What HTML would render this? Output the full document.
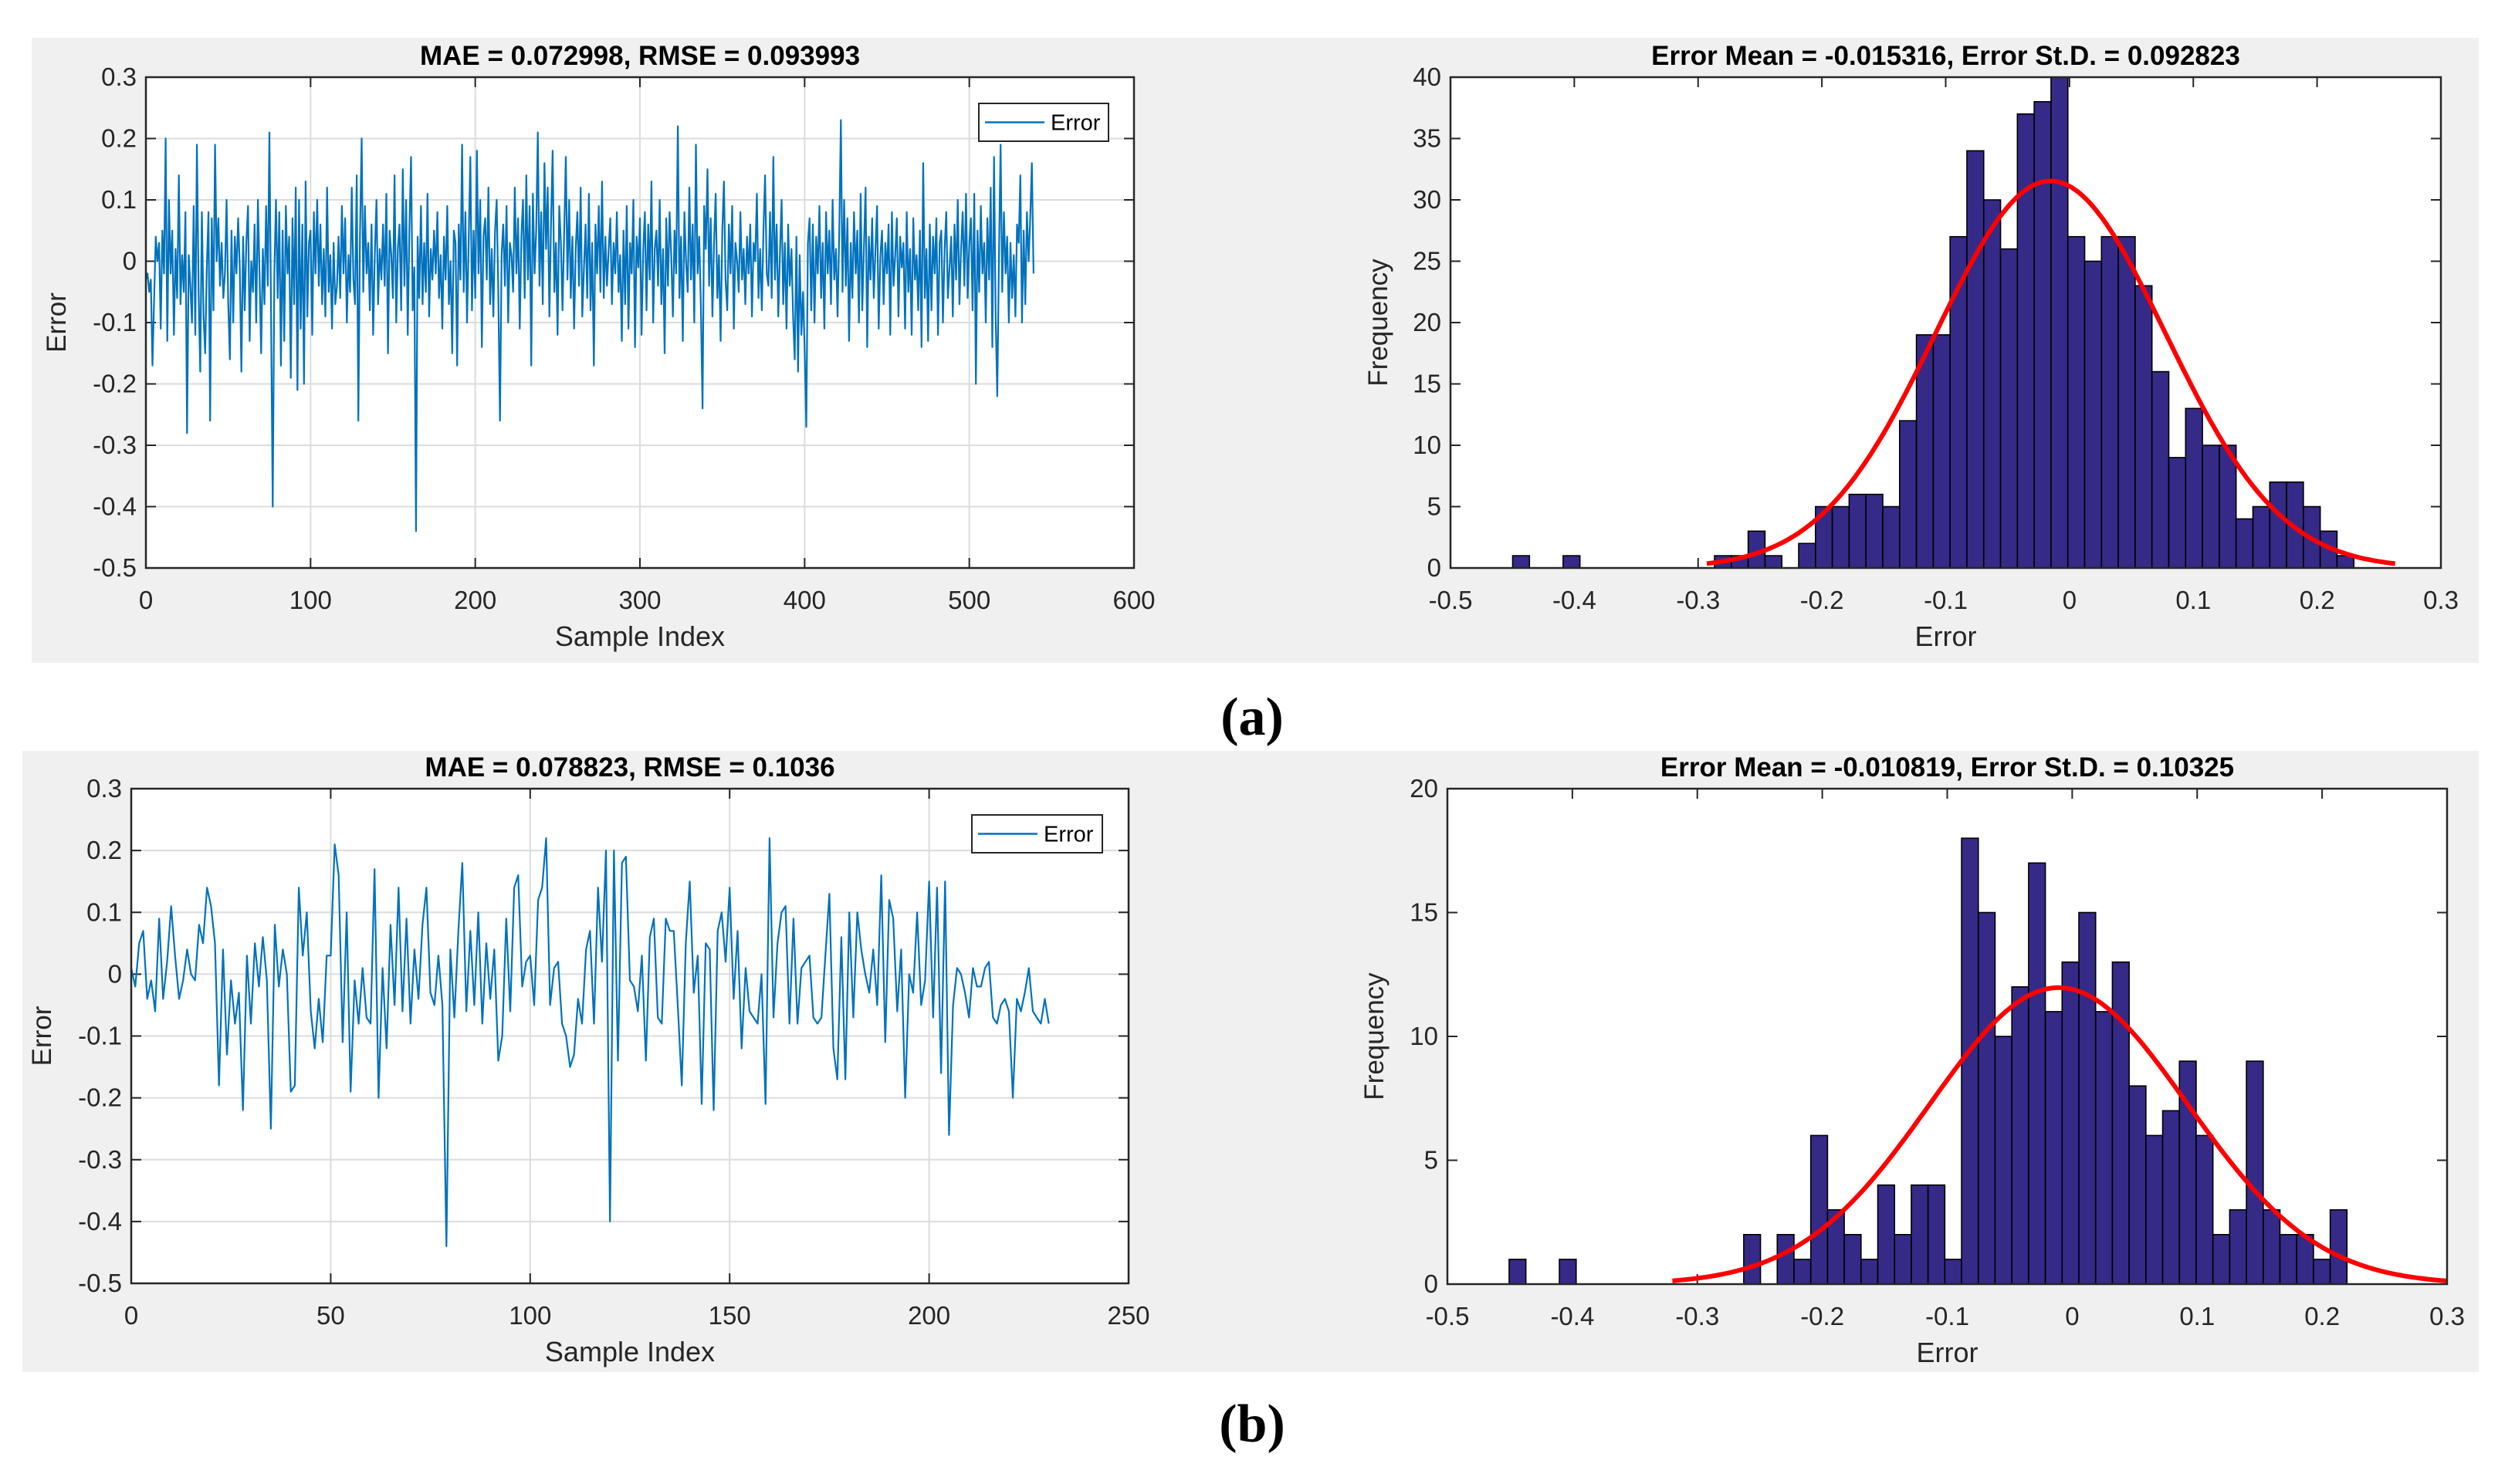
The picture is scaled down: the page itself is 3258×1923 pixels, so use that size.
<!DOCTYPE html>
<html><head><meta charset="utf-8">
<style>
html,body{margin:0;padding:0;background:#fff;}
svg{display:block;}
text{font-family:"Liberation Sans",Arial,sans-serif;}
</style></head>
<body>
<svg id="fig" width="3258" height="1923" viewBox="0 0 3258 1923" xmlns="http://www.w3.org/2000/svg">
<rect x="41" y="49" width="3170" height="810" fill="#f0f0f0"/>
<rect x="29" y="973" width="3182" height="805" fill="#f0f0f0"/>
<text x="1622" y="952" text-anchor="middle" style="font-family:'Liberation Serif',serif;font-weight:bold;font-size:70px">(a)</text>
<text x="1622" y="1868" text-anchor="middle" style="font-family:'Liberation Serif',serif;font-weight:bold;font-size:70px">(b)</text>
</svg>
<script>
// ---- Panel (a) error series (value per sample index) ----
const errorsA = [
-0.03,-0.02,-0.05,-0.03,-0.17,-0.06,0.04,0.00,0.03,-0.11,
0.05,-0.02,0.20,-0.13,0.10,-0.02,0.05,-0.12,0.02,-0.06,
0.14,-0.07,0.01,-0.05,0.08,-0.28,0.01,-0.04,-0.10,0.09,
-0.12,0.19,-0.05,-0.18,0.08,-0.09,-0.15,-0.01,0.08,-0.26,
0.07,-0.08,0.19,0.00,0.07,-0.04,0.03,-0.06,-0.02,0.10,
-0.07,-0.16,0.05,-0.10,0.04,-0.02,0.07,-0.01,-0.18,0.04,
-0.08,0.03,0.09,-0.13,0.00,-0.05,0.06,-0.10,0.10,-0.02,
-0.15,0.02,-0.07,0.09,-0.04,0.21,-0.08,-0.40,-0.02,0.10,
-0.06,0.08,-0.17,0.05,-0.13,0.09,-0.02,0.04,-0.19,0.07,
-0.07,0.12,-0.21,0.10,-0.11,0.06,-0.20,0.13,-0.09,0.03,
0.05,-0.12,0.08,-0.02,0.10,-0.04,0.06,-0.07,0.02,-0.09,
0.12,-0.05,0.01,-0.11,0.03,-0.07,-0.04,0.04,-0.06,0.09,
-0.02,0.07,-0.10,0.01,-0.05,0.12,-0.03,-0.07,0.14,-0.26,
0.04,0.20,-0.05,0.09,-0.02,0.03,-0.08,0.06,-0.12,0.01,
0.10,-0.07,0.02,-0.03,0.06,-0.04,0.11,-0.15,0.05,0.01,
-0.06,0.14,-0.10,0.02,0.06,-0.08,0.15,-0.04,0.10,-0.12,
0.05,0.17,-0.08,-0.01,-0.44,0.04,-0.06,0.09,-0.07,0.03,
-0.05,0.11,-0.09,0.02,-0.03,0.05,-0.02,0.08,-0.06,0.01,
-0.11,0.04,-0.03,0.09,-0.07,0.00,-0.15,0.05,0.03,-0.17,
0.06,-0.03,0.19,-0.05,0.08,-0.10,0.03,0.17,-0.08,0.05,
-0.06,0.18,-0.02,0.10,-0.14,0.04,0.07,-0.03,0.12,-0.07,
0.02,-0.09,0.05,0.10,-0.05,-0.26,0.01,0.06,-0.04,0.09,
-0.10,0.03,0.01,-0.05,0.12,-0.02,0.07,-0.11,0.04,0.10,
-0.06,0.14,-0.03,0.09,-0.17,0.11,-0.02,0.05,0.21,-0.04,
0.08,-0.07,0.16,0.02,0.12,-0.09,0.06,0.18,-0.05,0.03,
-0.12,0.09,0.03,-0.08,0.05,0.17,-0.03,0.10,-0.06,0.04,
-0.11,0.02,0.08,-0.04,0.12,-0.09,-0.01,0.06,-0.06,0.11,
-0.08,0.03,-0.17,0.06,-0.02,0.09,-0.05,0.13,-0.06,0.04,
-0.04,0.02,0.07,-0.07,0.03,-0.02,0.08,-0.05,0.01,-0.13,
0.05,-0.07,0.09,-0.11,0.03,-0.02,0.10,-0.14,0.04,-0.01,
0.07,-0.12,0.02,0.08,-0.08,0.06,-0.03,0.13,-0.10,0.02,
0.05,-0.04,0.10,-0.07,0.02,-0.15,0.07,-0.04,0.08,0.01,
-0.09,0.05,-0.02,0.22,-0.06,0.04,-0.13,0.08,0.00,-0.05,
0.12,-0.03,0.06,-0.10,0.19,-0.02,0.04,-0.07,-0.24,0.09,
0.02,0.15,-0.04,0.07,-0.09,0.03,0.11,-0.06,0.01,-0.13,
0.05,0.13,-0.03,-0.08,0.06,-0.02,0.09,-0.11,0.03,0.00,
-0.05,0.08,-0.03,0.02,-0.07,0.04,-0.02,0.06,-0.09,0.03,
0.00,0.11,-0.06,0.02,-0.08,0.05,0.14,-0.02,-0.04,0.08,
-0.06,0.17,-0.03,0.06,-0.09,0.01,0.10,-0.07,0.03,-0.11,
0.06,-0.04,0.02,-0.09,-0.16,0.04,-0.18,0.01,-0.12,-0.05,
-0.14,-0.27,0.03,0.07,-0.08,0.06,-0.10,0.04,-0.02,0.09,
-0.06,0.03,-0.11,0.08,-0.02,0.05,-0.07,0.10,-0.03,0.02,
-0.09,0.04,0.23,-0.05,0.10,-0.04,0.07,-0.13,0.03,-0.06,
0.08,-0.02,0.05,-0.10,0.11,-0.08,0.02,0.12,-0.14,0.04,
-0.03,0.07,-0.06,0.02,0.09,-0.11,0.01,0.05,-0.07,0.03,
-0.02,0.06,-0.12,0.08,-0.04,0.01,0.07,-0.09,0.04,-0.01,
0.03,-0.11,0.08,-0.05,0.02,-0.12,0.07,-0.03,0.01,-0.08,
0.05,-0.14,0.16,-0.06,0.02,-0.13,0.06,-0.08,0.04,-0.02,
0.07,-0.12,0.03,0.05,-0.10,0.02,0.08,-0.06,-0.01,0.04,
-0.09,0.06,-0.03,0.10,-0.07,0.02,0.08,-0.04,0.11,-0.06,
0.03,0.07,-0.08,0.11,-0.20,0.05,-0.05,0.09,-0.02,0.03,
-0.10,0.07,-0.03,0.12,-0.14,0.17,-0.09,-0.22,0.01,0.19,
-0.05,0.08,-0.02,0.04,-0.10,0.03,-0.06,0.01,-0.09,0.06,
0.03,0.14,-0.10,0.05,-0.07,0.08,0.00,0.07,0.16,-0.02
];
// ---- Panel (b) error series ----
const errorsB = [
0.01,-0.02,0.05,0.07,-0.04,-0.01,-0.06,0.09,-0.04,0.02,
0.11,0.03,-0.04,-0.01,0.04,0.00,-0.01,0.08,0.05,0.14,
0.11,0.05,-0.18,0.04,-0.13,-0.01,-0.08,-0.03,-0.22,0.03,
-0.08,0.05,-0.02,0.06,-0.01,-0.25,0.08,-0.02,0.04,0.00,
-0.19,-0.18,0.14,0.03,0.10,-0.06,-0.12,-0.04,-0.11,0.03,
0.03,0.21,0.16,-0.11,0.10,-0.19,-0.01,-0.08,0.01,-0.07,
-0.08,0.17,-0.20,0.01,-0.12,0.08,-0.05,0.14,-0.06,0.09,
-0.08,0.04,-0.04,0.08,0.14,-0.03,-0.05,0.03,-0.05,-0.44,
0.04,-0.07,0.07,0.18,-0.06,0.07,-0.05,0.10,-0.08,0.05,
-0.04,0.04,-0.14,-0.10,0.09,-0.06,0.14,0.16,-0.02,0.02,
0.03,-0.05,0.12,0.14,0.22,-0.05,0.01,0.02,-0.08,-0.10,
-0.15,-0.13,-0.04,-0.08,0.04,0.07,-0.08,0.14,0.02,0.20,
-0.40,0.20,-0.14,0.18,0.19,-0.01,-0.02,-0.06,0.03,-0.14,
0.06,0.09,-0.07,-0.08,0.09,0.07,0.07,-0.05,-0.18,0.05,
0.15,-0.03,0.03,-0.21,0.05,0.04,-0.22,0.07,0.10,0.02,
0.14,-0.04,0.07,-0.12,0.01,-0.06,-0.07,-0.08,0.00,-0.21,
0.22,-0.07,0.05,0.10,0.11,-0.08,0.09,-0.08,0.01,0.02,
0.03,-0.07,-0.08,-0.07,0.03,0.13,-0.12,-0.17,0.06,-0.17,
0.10,-0.07,0.10,0.04,0.00,-0.03,0.04,-0.05,0.16,-0.11,
0.12,0.09,-0.06,0.04,-0.20,0.00,-0.03,0.10,-0.05,-0.01,
0.15,-0.07,0.14,-0.16,0.15,-0.26,-0.05,0.01,0.00,-0.03,
-0.07,0.01,-0.02,-0.02,0.01,0.02,-0.07,-0.08,-0.05,-0.04,
-0.06,-0.20,-0.04,-0.06,-0.03,0.01,-0.06,-0.07,-0.08,-0.04,-0.08
];
// ---- Histogram counts ----
const countsA = [1,0,0,1,0,0,0,0,0,0,0,0,1,1,3,1,0,2,5,5,6,6,5,12,19,19,27,34,30,26,37,38,40,27,25,27,27,23,16,9,13,10,10,4,5,7,7,5,3,1];
const histMinA = -0.4498, binWidthA = 0.01359;
const countsB = [1,0,0,1,0,0,0,0,0,0,0,0,0,0,2,0,2,1,6,3,2,1,4,2,4,4,1,18,15,10,12,17,11,13,15,11,13,8,6,7,9,6,2,3,9,3,2,2,1,3];
const histMinB = -0.4506, binWidthB = 0.01341;
// ---- Fit parameters ----
const fitA = [-0.015316, 0.092823, 540]; // mean, std, N
const fitB = [-0.010819, 0.10325, 231];
const fitRangeA = [-0.293, 0.263];
const fitRangeB = [-0.320, 0.300];
// ---- Tick labels ----
const yTicksErr = [0.3,0.2,0.1,0,-0.1,-0.2,-0.3,-0.4,-0.5];
const xTicksA = [0,100,200,300,400,500,600];
const xTicksB = [0,50,100,150,200,250];
const xTicksHist = [-0.5,-0.4,-0.3,-0.2,-0.1,0,0.1,0.2,0.3];
const yTicksHistA = [0,5,10,15,20,25,30,35,40];
const yTicksHistB = [0,5,10,15,20];

const NS = "http://www.w3.org/2000/svg";
const svg = document.getElementById('fig');
function mk(tag, attrs, parent){
  const e = document.createElementNS(NS, tag);
  for (const k in attrs) e.setAttribute(k, attrs[k]);
  (parent||svg).appendChild(e);
  return e;
}
function fmt(v){ return String(v); }

function axes(prefix, box, xdom, ydom, xticks, yticks, grid, title, xlabel, ylabel, ylabX){
  const g = mk('g', {});
  
  
  const sx = v => box.x0 + (v - xdom[0]) / (xdom[1] - xdom[0]) * (box.x1 - box.x0);
  const sy = v => box.y1 - (v - ydom[0]) / (ydom[1] - ydom[0]) * (box.y1 - box.y0);
  const bg = mk('rect', {x:box.x0, y:box.y0, width:box.x1-box.x0, height:box.y1-box.y0, fill:'#fff'}, g);
  
  
  if (grid){
    xticks.forEach(t => { const l = mk('line', {x1:sx(t), x2:sx(t), y1:box.y0, y2:box.y1, stroke:'#dcdcdc', 'stroke-width':2}, g);
      
       });
    yticks.forEach(t => { const l = mk('line', {x1:box.x0, x2:box.x1, y1:sy(t), y2:sy(t), stroke:'#dcdcdc', 'stroke-width':2}, g);
      
       });
  }
  const tl = 13;
  xticks.forEach(t => {
    mk('line', {x1:sx(t), x2:sx(t), y1:box.y1, y2:box.y1-tl, stroke:'#262626', 'stroke-width':2}, g);
    mk('line', {x1:sx(t), x2:sx(t), y1:box.y0, y2:box.y0+tl, stroke:'#262626', 'stroke-width':2}, g);
    const tx = mk('text', {x:sx(t), y:box.y1+53, 'text-anchor':'middle', 'font-size':33, fill:'#262626'}, g);
    
    
    tx.textContent = fmt(t);
  });
  yticks.forEach(t => {
    mk('line', {x1:box.x0, x2:box.x0+tl, y1:sy(t), y2:sy(t), stroke:'#262626', 'stroke-width':2}, g);
    mk('line', {x1:box.x1, x2:box.x1-tl, y1:sy(t), y2:sy(t), stroke:'#262626', 'stroke-width':2}, g);
    const tx = mk('text', {x:box.x0-12, y:sy(t)+11, 'text-anchor':'end', 'font-size':33, fill:'#262626'}, g);
    
    
    tx.textContent = fmt(t);
  });
  const ti = mk('text', {x:(box.x0+box.x1)/2, y:box.y0-16, 'text-anchor':'middle', 'font-size':35, 'font-weight':'bold', fill:'#000'}, g);
  
  
  ti.textContent = title;
  const xl = mk('text', {x:(box.x0+box.x1)/2, y:box.y1+101, 'text-anchor':'middle', 'font-size':36, fill:'#262626'}, g);
  
  
  xl.textContent = xlabel;
  const cy = (box.y0+box.y1)/2;
  const yl = mk('text', {x:ylabX, y:cy, 'text-anchor':'middle', 'font-size':35, fill:'#262626', transform:'rotate(-90 '+ylabX+' '+cy+')'}, g);
  
  
  yl.textContent = ylabel;
  return {g, sx, sy, box};
}
function frame(ax, prefix){
  const b = ax.box;
  const r = mk('rect', {x:b.x0, y:b.y0, width:b.x1-b.x0, height:b.y1-b.y0, fill:'none', stroke:'#262626', 'stroke-width':2.5}, ax.g);
  
  
}
function errorPlot(prefix, box, data, xmax, xticks, legBox, ylabX){
  const ax = axes(prefix, box, [0,xmax], [-0.5,0.3], xticks, yTicksErr, true,
    prefix==='a-left' ? 'MAE = 0.072998, RMSE = 0.093993' : 'MAE = 0.078823, RMSE = 0.1036',
    'Sample Index', 'Error', ylabX);
  const pts = data.map((v,i) => ax.sx(i).toFixed(1) + ',' + ax.sy(v).toFixed(1)).join(' ');
  const pl = mk('polyline', {points:pts, fill:'none', stroke:'#0072bd', 'stroke-width':2.2, 'stroke-linejoin':'round'}, ax.g);
  
  
  frame(ax, prefix);
  const lg = mk('g', {}, ax.g);
  
  
  mk('rect', {x:legBox[0], y:legBox[1], width:legBox[2], height:legBox[3], fill:'#fff', stroke:'#262626', 'stroke-width':2}, lg);
  mk('line', {x1:legBox[0]+8, x2:legBox[0]+85, y1:legBox[1]+legBox[3]/2, y2:legBox[1]+legBox[3]/2, stroke:'#0072bd', 'stroke-width':2.5}, lg);
  const lt = mk('text', {x:legBox[0]+93, y:legBox[1]+legBox[3]/2+10, 'font-size':29, fill:'#000'}, lg);
  
  
  lt.textContent = 'Error';
}
function histPlot(prefix, box, counts, hmin, bw, fit, frange, ymax, yticks, title, ylabX){
  const ax = axes(prefix, box, [-0.5,0.3], [0,ymax], xTicksHist, yticks, false, title, 'Error', 'Frequency', ylabX);
  counts.forEach((c,k) => {
    const x0 = ax.sx(hmin + k*bw), x1 = ax.sx(hmin + (k+1)*bw);
    const r = mk('rect', {x:x0, y:ax.sy(c), width:x1-x0, height:ax.sy(0)-ax.sy(c), fill:'#352a87', stroke:'#000', 'stroke-width':1.6}, ax.g);
    
    
  });
  const [mu, sd, n] = fit;
  const pts = [];
  for (let i = 0; i <= 200; i++){
    const x = frange[0] + (frange[1]-frange[0]) * i / 200;
    const y = n * bw / (sd * Math.sqrt(2*Math.PI)) * Math.exp(-0.5 * ((x-mu)/sd)**2);
    pts.push(ax.sx(x).toFixed(1) + ',' + ax.sy(y).toFixed(1));
  }
  const pl = mk('polyline', {points:pts.join(' '), fill:'none', stroke:'#ff0000', 'stroke-width':6, 'stroke-linejoin':'round'}, ax.g);
  
  
  frame(ax, prefix);
}
errorPlot('a-left', {x0:189, x1:1469, y0:100, y1:736}, errorsA, 600, xTicksA, [1268,134,168,49], 85);
histPlot('a-right', {x0:1879, x1:3162, y0:100, y1:736}, countsA, histMinA, binWidthA, fitA, fitRangeA, 40, yTicksHistA,
  'Error Mean = -0.015316, Error St.D. = 0.092823', 1797);
errorPlot('b-left', {x0:170, x1:1462, y0:1022, y1:1663}, errorsB, 250, xTicksB, [1259,1056,169,49], 66);
histPlot('b-right', {x0:1875, x1:3170, y0:1022, y1:1664}, countsB, histMinB, binWidthB, fitB, fitRangeB, 20, yTicksHistB,
  'Error Mean = -0.010819, Error St.D. = 0.10325', 1792);
</script>
</body></html>
